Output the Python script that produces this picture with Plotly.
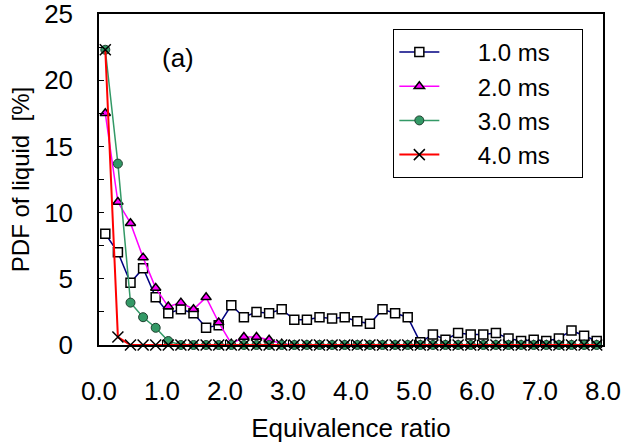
import plotly.graph_objects as go

x_vals = [0.1, 0.3, 0.5, 0.7, 0.9, 1.1, 1.3, 1.5, 1.7, 1.9,
          2.1, 2.3, 2.5, 2.7, 2.9, 3.1, 3.3, 3.5, 3.7, 3.9,
          4.1, 4.3, 4.5, 4.7, 4.9, 5.1, 5.3, 5.5, 5.7, 5.9,
          6.1, 6.3, 6.5, 6.7, 6.9, 7.1, 7.3, 7.5, 7.7, 7.9]

pdf_1ms = [8.4, 7.0, 4.7, 5.8, 3.6, 2.4, 2.7, 2.4, 1.3, 1.5,
           3.0, 2.1, 2.5, 2.4, 2.7, 1.9, 1.9, 2.1, 2.0, 2.1,
           1.8, 1.6, 2.7, 2.4, 2.1, 0.2, 0.8, 0.4, 0.9, 0.8,
           0.8, 0.9, 0.5, 0.3, 0.4, 0.3, 0.5, 1.1, 0.7, 0.3]

pdf_2ms = [17.5, 10.8, 9.2, 6.6, 4.3, 2.9, 3.2, 2.7, 3.6, 1.7,
           0.1, 0.6, 0.6, 0.4, 0.1, 0, 0, 0, 0, 0,
           0, 0, 0, 0, 0, 0, 0, 0, 0, 0,
           0, 0, 0, 0, 0, 0, 0, 0, 0, 0]

pdf_3ms = [22.3, 13.7, 3.2, 2.1, 1.3, 0.3, 0, 0, 0, 0,
           0, 0, 0, 0, 0, 0, 0, 0, 0, 0,
           0, 0, 0, 0, 0, 0, 0, 0, 0, 0,
           0, 0, 0, 0, 0, 0, 0, 0, 0, 0]

pdf_4ms = [22.3, 0.6, 0, 0, 0, 0, 0, 0, 0, 0,
           0, 0, 0, 0, 0, 0, 0, 0, 0, 0,
           0, 0, 0, 0, 0, 0, 0, 0, 0, 0,
           0, 0, 0, 0, 0, 0, 0, 0, 0, 0]

series_names = ["1.0 ms", "2.0 ms", "3.0 ms", "4.0 ms"]
x_tick_vals = [0, 1, 2, 3, 4, 5, 6, 7, 8]
x_tick_text = ["0.0", "1.0", "2.0", "3.0", "4.0", "5.0", "6.0", "7.0", "8.0"]
y_tick_vals = [0, 5, 10, 15, 20, 25]

FONT = "Liberation Sans, Arial, sans-serif"
FS = 26
LFS = 24
LPAD = "&nbsp;&nbsp;&nbsp;&nbsp;&nbsp;"
RPAD = "&nbsp;&nbsp;&nbsp;&nbsp;"

fig = go.Figure()

fig.add_trace(go.Scatter(
    x=x_vals, y=pdf_1ms, name=LPAD + series_names[0] + RPAD, mode="lines+markers",
    line=dict(color="#000080", width=1.5),
    marker=dict(symbol="square", size=9, color="white",
                line=dict(color="black", width=1.5)),
    cliponaxis=False))

fig.add_trace(go.Scatter(
    x=x_vals, y=pdf_2ms, name=LPAD + series_names[1] + RPAD, mode="lines+markers",
    line=dict(color="#ff00ff", width=1.5),
    marker=dict(symbol="triangle-up", size=9, color="#ff00ff",
                line=dict(color="black", width=1.5)),
    cliponaxis=False))

fig.add_trace(go.Scatter(
    x=x_vals, y=pdf_3ms, name=LPAD + series_names[2] + RPAD, mode="lines+markers",
    line=dict(color="#339966", width=1.5),
    marker=dict(symbol="circle", size=9, color="#339966",
                line=dict(color="#1f3f2f", width=1)),
    cliponaxis=False))

fig.add_trace(go.Scatter(
    x=x_vals, y=pdf_4ms, name=LPAD + series_names[3] + RPAD, mode="lines+markers",
    line=dict(color="#ff0000", width=2),
    marker=dict(symbol="x-thin-open", size=11, color="black",
                line=dict(color="black", width=1.5)),
    cliponaxis=False))

fig.add_annotation(x=1.26, y=21.7, xref="x", yref="y", text="(a)",
                   showarrow=False, font=dict(family=FONT, size=FS, color="black"))

fig.update_layout(
    width=624, height=446,
    margin=dict(l=99, r=21, t=14, b=101),
    paper_bgcolor="white", plot_bgcolor="white",
    font=dict(family=FONT, size=FS, color="black"),
    showlegend=True,
    legend=dict(x=0.584, y=0.955, xanchor="left", yanchor="top",
                bgcolor="white", bordercolor="black", borderwidth=1,
                font=dict(family=FONT, size=LFS, color="black"),
                itemwidth=40, tracegroupgap=0),
    xaxis=dict(range=[0, 8], tickvals=x_tick_vals, ticktext=x_tick_text,
               showline=True, linecolor="black", linewidth=1.5, mirror=True,
               ticks="inside", ticklen=5, tickcolor="black",
               showgrid=False, zeroline=False, ticklabelstandoff=22,
               ticklabeloverflow="allow",
               automargin=False,
               title=dict(text="Equivalence ratio", standoff=14,
                          font=dict(family=FONT, size=FS))),
    yaxis=dict(range=[0, 25], tickvals=y_tick_vals,
               showline=True, linecolor="black", linewidth=1.5, mirror=True,
               ticks="inside", ticklen=5, tickcolor="black",
               minor=dict(dtick=2.5, ticks="inside", ticklen=5, tickcolor="black"),
               showgrid=False, zeroline=False, ticklabelstandoff=19,
               ticklabeloverflow="allow",
               automargin=False,
               title=dict(text="PDF of liquid  [%]", standoff=8,
                          font=dict(family=FONT, size=24))),
)

# remove the page's default 8px body margin so the figure fills the window
fig.write_html("out.html", config={"displayModeBar": False},
               post_script="document.body.style.margin='0px';")
